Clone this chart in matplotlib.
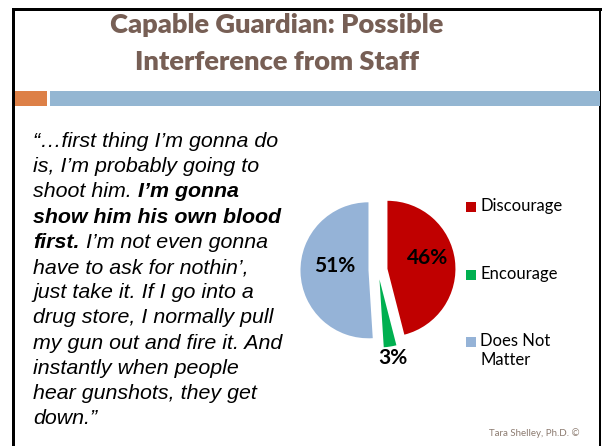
import numpy as np
import matplotlib
matplotlib.use("Agg")
import matplotlib.pyplot as plt
from matplotlib import font_manager
from matplotlib.patches import Rectangle

# slide text and chart data
title_lines = ["Capable Guardian: Possible", "Interference from Staff"]
categories = ["Discourage", "Encourage", "Does Not\nMatter"]
shares = [46, 3, 51]
slice_colors = ["#C00000", "#00B050", "#95B3D7"]
quote_lines = [
    [("“…first thing I’m gonna do", "normal")],
    [("is, I’m probably going to", "normal")],
    [("shoot him.", "normal"), ("I’m gonna", "bold")],
    [("show him his own blood", "bold")],
    [("first.", "bold"), ("I’m not even gonna", "normal")],
    [("have to ask for nothin’,", "normal")],
    [("just take it. If I go into a", "normal")],
    [("drug store, I normally pull", "normal")],
    [("my gun out and fire it. And", "normal")],
    [("instantly when people", "normal")],
    [("hear gunshots, they get", "normal")],
    [("down.”", "normal")],
]
footer = "Tara Shelley, Ph.D. ©"

W, H = 602, 446
TITLE_COLOR = "#775F55"
HEAD_FONT = "Lato"
QUOTE_FONT = "Liberation Sans"

# heaviest Lato face that is installed
lato_weights = [f.weight for f in font_manager.fontManager.ttflist
                if f.name == HEAD_FONT and f.style == "normal"]
lato_weights = [font_manager.weight_dict.get(w, w) if isinstance(w, str) else w
                for w in lato_weights]
heavy = max(lato_weights) if lato_weights else 700
title_weight = min(heavy, 800)

fig = plt.figure(figsize=(W / 100, H / 100), dpi=100)
fig.patch.set_facecolor("white")

# background axes in pixel units, y pointing down
bg = fig.add_axes([0, 0, 1, 1])
bg.set_xlim(0, W)
bg.set_ylim(H, 0)
bg.axis("off")

# slide frame
bg.add_patch(Rectangle((12, 8), 3, H, color="black", lw=0))
bg.add_patch(Rectangle((12, 8), 590, 3, color="black", lw=0))
bg.add_patch(Rectangle((599, 8), 2, H, color="black", lw=0))

# accent bars under the title
bg.add_patch(Rectangle((15, 91), 32, 15, color="#DD8047", lw=0))
bg.add_patch(Rectangle((50, 91), 550, 15, color="#94B6D2", lw=0))

for y, line in zip([33, 70], title_lines):
    bg.text(277, y, line, ha="center", va="baseline", fontsize=19.6,
            fontweight=title_weight, family=HEAD_FONT, color=TITLE_COLOR)

# quote, drawn segment by segment so bold parts sit inline
renderer = fig.canvas.get_renderer()
qsize = 15.4


def text_width(s, weight):
    t = bg.text(0, 0, s, fontsize=qsize, style="italic", fontweight=weight,
                family=QUOTE_FONT)
    w = t.get_window_extent(renderer).width
    t.remove()
    return w


space_w = text_width("a a", "normal") - text_width("aa", "normal")
x0, y0, dy = 33, 147, 25.2
for i, segs in enumerate(quote_lines):
    x = x0
    for s, weight in segs:
        bg.text(x, y0 + i * dy, s, ha="left", va="baseline", fontsize=qsize,
                style="italic", fontweight=weight, family=QUOTE_FONT,
                color="black")
        x += text_width(s, weight) + space_w

# pie
cx, cy, R = 378, 270, 68
pax = fig.add_axes([(cx - 1.5 * R) / W, (H - cy - 1.5 * R) / H,
                    3 * R / W, 3 * R / H])
wedges, _ = pax.pie(shares, colors=slice_colors, startangle=90,
                    counterclock=False, explode=[0.14] * 3,
                    wedgeprops=dict(linewidth=0))
pax.set_xlim(-1.5, 1.5)
pax.set_ylim(-1.5, 1.5)

label_dist = [0.6, 1.25, 0.5]
for w, v, d in zip(wedges, shares, label_dist):
    ang = np.deg2rad((w.theta1 + w.theta2) / 2)
    px = w.center[0] + d * np.cos(ang)
    py = w.center[1] + d * np.sin(ang) + 0.08
    pax.text(px, py, f"{v}%", ha="center", va="center", fontsize=15,
             fontweight="bold", family=HEAD_FONT, color="black")

# legend
for i, (lab, col) in enumerate(zip(categories, slice_colors)):
    ly = 207 + i * 67.5
    bg.add_patch(Rectangle((466, ly - 5), 10, 10, color=col, lw=0))
    bg.text(480, ly - 9, lab, ha="left", va="top", fontsize=12,
            family=HEAD_FONT, color="black", linespacing=1.25)

bg.text(580, 433, footer, ha="right", va="center", fontsize=7,
        family=HEAD_FONT, color="#8C7B70")

fig.savefig("out.png", dpi=100, facecolor="white")
